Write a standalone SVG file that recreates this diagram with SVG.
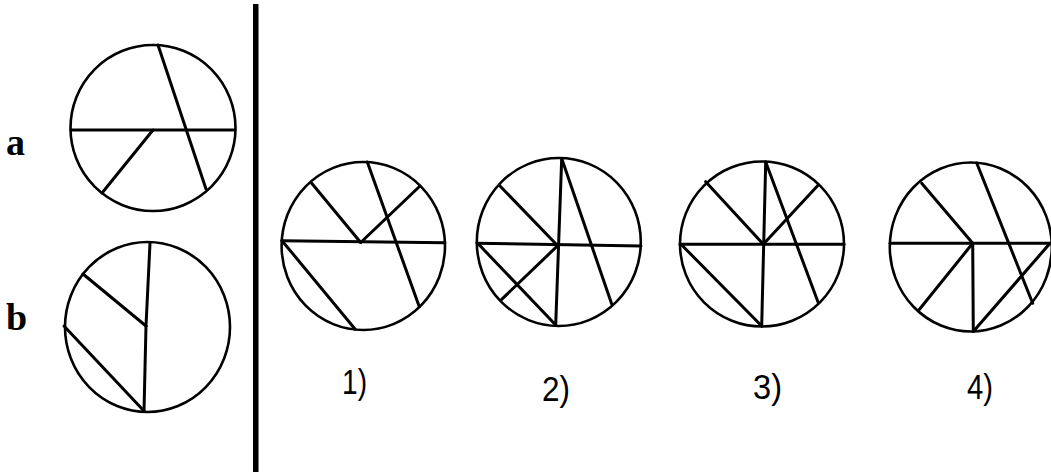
<svg xmlns="http://www.w3.org/2000/svg" width="1051" height="472" viewBox="0 0 1051 472">
<style>
.c{fill:none;stroke:#000;stroke-width:2.6}
.l{stroke:#000;stroke-width:3;stroke-linecap:round;fill:none}
.lab{font-family:"Liberation Serif","Times New Roman",serif;font-weight:bold;font-size:38px;fill:#000}
.num{font-family:"Liberation Sans",Arial,sans-serif;font-size:35px;fill:#000}
</style>
<rect width="1051" height="472" fill="#fff"/>
<rect x="253" y="4" width="5.5" height="468" fill="#000"/>
<text class="lab" x="6" y="155">a</text>
<text class="lab" x="6" y="330">b</text>
<g id="fig-a">
<ellipse class="c" cx="153" cy="128" rx="82.5" ry="83"/>
<line class="l" x1="71" y1="130" x2="235" y2="130"/>
<line class="l" x1="158" y1="45" x2="206" y2="189"/>
<line class="l" x1="153" y1="130" x2="102" y2="193"/>
</g>
<g id="fig-b">
<ellipse class="c" cx="147.5" cy="327" rx="82.5" ry="85"/>
<line class="l" x1="150" y1="243" x2="146" y2="326"/>
<line class="l" x1="146" y1="326" x2="144" y2="411"/>
<line class="l" x1="83" y1="274" x2="146" y2="326"/>
<line class="l" x1="64" y1="326" x2="144" y2="411"/>
</g>
<g id="fig-1">
<ellipse class="c" cx="363.3" cy="246" rx="81.7" ry="84"/>
<line class="l" x1="282" y1="240.7" x2="445" y2="242.7"/>
<line class="l" x1="311.7" y1="183.3" x2="360.7" y2="242.5"/>
<line class="l" x1="360.7" y1="242.5" x2="420" y2="186"/>
<line class="l" x1="367.3" y1="162" x2="419.3" y2="306.7"/>
<line class="l" x1="282" y1="240.7" x2="355" y2="329"/>
</g>
<g id="fig-2">
<ellipse class="c" cx="558.8" cy="242" rx="82" ry="84"/>
<line class="l" x1="477" y1="243.3" x2="641" y2="246"/>
<line class="l" x1="561.7" y1="158.5" x2="555.7" y2="325"/>
<line class="l" x1="561.7" y1="158.5" x2="611.7" y2="304"/>
<line class="l" x1="500" y1="186" x2="557.7" y2="245.7"/>
<line class="l" x1="477.7" y1="243.3" x2="555.7" y2="325"/>
<line class="l" x1="557.7" y1="245.7" x2="501.7" y2="299.3"/>
</g>
<g id="fig-3">
<ellipse class="c" cx="762" cy="244" rx="82" ry="82.5"/>
<line class="l" x1="680" y1="244.3" x2="844" y2="244.3"/>
<line class="l" x1="765.7" y1="162" x2="761.7" y2="326"/>
<line class="l" x1="765.7" y1="162" x2="818.3" y2="302.7"/>
<line class="l" x1="705.7" y1="181.7" x2="763.3" y2="244.3"/>
<line class="l" x1="763.3" y1="244.3" x2="818.3" y2="185"/>
<line class="l" x1="681.7" y1="245" x2="761.7" y2="326"/>
</g>
<g id="fig-4">
<ellipse class="c" cx="970.8" cy="247" rx="81" ry="84.5"/>
<line class="l" x1="890" y1="243.3" x2="1051" y2="243.3"/>
<line class="l" x1="976.7" y1="163" x2="1032.7" y2="303.3"/>
<line class="l" x1="921.7" y1="183.3" x2="972.7" y2="243.3"/>
<line class="l" x1="972.7" y1="243.3" x2="973.3" y2="331.5"/>
<line class="l" x1="972.7" y1="243.3" x2="918.3" y2="310.7"/>
<line class="l" x1="973.3" y1="331.5" x2="1050" y2="243.3"/>
</g>
<text class="num" x="342" y="394" textLength="25" lengthAdjust="spacingAndGlyphs">1)</text>
<text class="num" x="542" y="401" textLength="28" lengthAdjust="spacingAndGlyphs">2)</text>
<text class="num" x="753" y="399" textLength="29" lengthAdjust="spacingAndGlyphs">3)</text>
<text class="num" x="967" y="399" textLength="26" lengthAdjust="spacingAndGlyphs">4)</text>
</svg>
